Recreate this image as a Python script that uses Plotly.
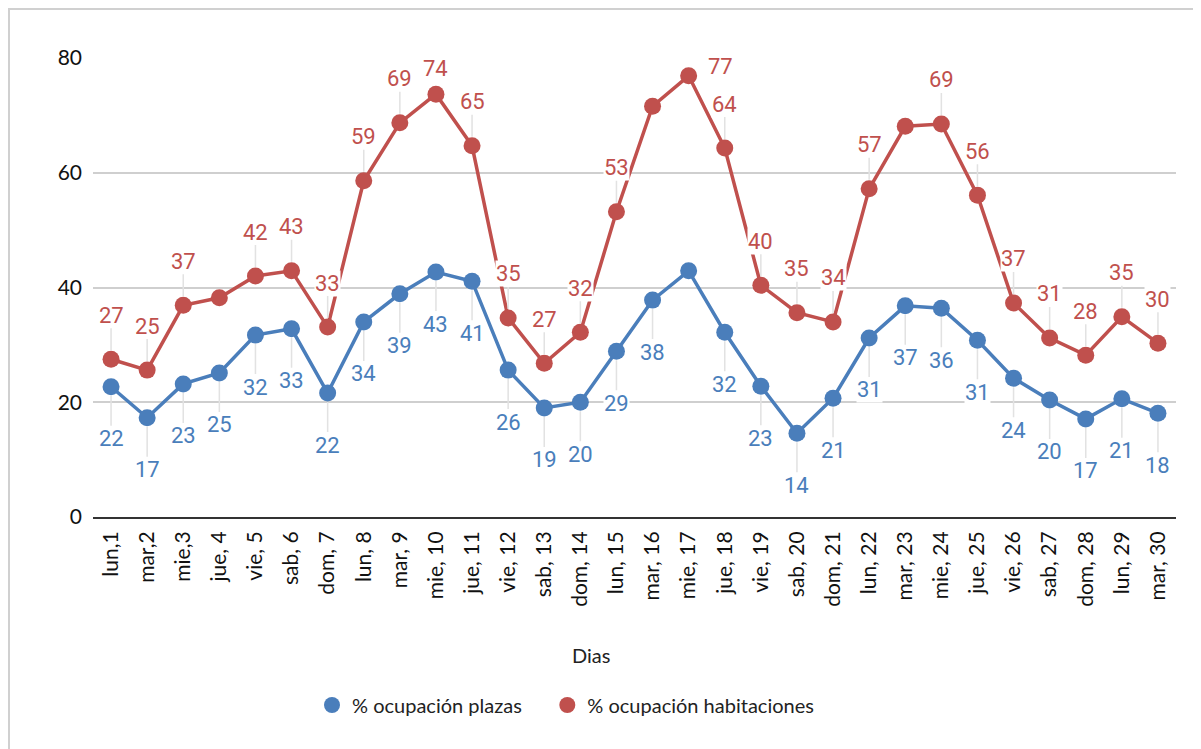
import plotly.graph_objects as go

dias = ["lun,1", "mar,2", "mie,3", "jue, 4", "vie, 5", "sab, 6", "dom, 7", "lun, 8", "mar, 9",
        "mie, 10", "jue, 11", "vie, 12", "sab, 13", "dom, 14", "lun, 15", "mar, 16", "mie, 17",
        "jue, 18", "vie, 19", "sab, 20", "dom, 21", "lun, 22", "mar, 23", "mie, 24", "jue, 25",
        "vie, 26", "sab, 27", "dom, 28", "lun, 29", "mar, 30"]

plazas = [22.7, 17.3, 23.2, 25.1, 31.7, 32.8, 21.6, 34.0, 38.9, 42.7, 41.1, 25.6, 19.0, 20.0, 28.9,
          37.8, 42.9, 32.2, 22.8, 14.6, 20.7, 31.2, 36.8, 36.4, 30.8, 24.2, 20.4, 17.1, 20.6, 18.1]
habitaciones = [27.5, 25.6, 36.9, 38.2, 42.0, 42.9, 33.1, 58.6, 68.7, 73.7, 64.7, 34.7, 26.8, 32.2, 53.2,
                71.6, 76.9, 64.3, 40.4, 35.6, 34.0, 57.2, 68.1, 68.5, 56.1, 37.3, 31.2, 28.2, 34.9, 30.3]

plazas_labels = [22, 17, 23, 25, 32, 33, 22, 34, 39, 43, 41, 26, 19, 20, 29,
                 38, None, 32, 23, 14, 21, 31, 37, 36, 31, 24, 20, 17, 21, 18]
habit_labels = [27, 25, 37, None, 42, 43, 33, 59, 69, 74, 65, 35, 27, 32, 53,
                None, 77, 64, 40, 35, 34, 57, None, 69, 56, 37, 31, 28, 35, 30]

BLUE = "#4a7ebb"
RED = "#c0504d"
W, H = 1201, 749
L, R, T, B = 85, 33, 50, 240
PW, PH = W - L - R, H - T - B


def px2paper_x(px):
    return (px - L) / PW


def px2paper_y(py):
    return (H - B - py) / PH


fig = go.Figure()
fig.add_trace(go.Scatter(x=dias, y=plazas, mode="lines+markers", name="% ocupación plazas",
                         line=dict(color=BLUE, width=3.5), marker=dict(size=17, color=BLUE),
                         showlegend=False, hoverinfo="skip"))
fig.add_trace(go.Scatter(x=dias, y=habitaciones, mode="lines+markers", name="% ocupación habitaciones",
                         line=dict(color=RED, width=3.5), marker=dict(size=17, color=RED),
                         showlegend=False, hoverinfo="skip"))
# legend entries (markers only)
fig.add_trace(go.Scatter(x=[None], y=[None], mode="markers",
                         name="% ocupación plazas" + "\u00a0" * 4,
                         marker=dict(size=20, color=BLUE)))
fig.add_trace(go.Scatter(x=[None], y=[None], mode="markers", name="% ocupación habitaciones",
                         marker=dict(size=20, color=RED)))

annotations = []
lab_font = dict(family="Roboto", size=22)
for d, v, t in zip(dias, habitaciones, habit_labels):
    if t is None:
        continue
    if t == 74:
        annotations.append(dict(x=d, y=v, text=str(t), showarrow=False, yshift=26,
                                font=dict(color=RED, **lab_font), bgcolor="white", borderpad=0))
    elif t == 77:
        annotations.append(dict(x=d, y=v, text=str(t), showarrow=False, xshift=32, yshift=9,
                                font=dict(color=RED, **lab_font), bgcolor="white", borderpad=0))
    else:
        annotations.append(dict(x=d, y=v, text=str(t), showarrow=True, arrowhead=0, arrowwidth=1.5,
                                arrowcolor="#e2e2e2", ax=0, ay=-44, standoff=9,
                                font=dict(color=RED, **lab_font), bgcolor="white", borderpad=0))
for d, v, t in zip(dias, plazas, plazas_labels):
    if t is None:
        continue
    annotations.append(dict(x=d, y=v, text=str(t), showarrow=True, arrowhead=0, arrowwidth=1.5,
                            arrowcolor="#e2e2e2", ax=0, ay=52, standoff=9,
                            font=dict(color=BLUE, **lab_font), bgcolor="white", borderpad=0))

annotations.append(dict(x=px2paper_x(583), y=px2paper_y(647), xref="paper", yref="paper",
                        xanchor="center", yanchor="middle",
                        text="Dias", showarrow=False, font=dict(family="Lato", size=20, color="#222")))

fig.update_layout(
    width=W, height=H,
    margin=dict(l=L, r=R, t=T, b=B, autoexpand=False),
    paper_bgcolor="white", plot_bgcolor="white",
    font=dict(family="Lato", size=20, color="#222"),
    annotations=annotations,
    legend=dict(orientation="h", x=px2paper_x(304), y=px2paper_y(697), xanchor="left", yanchor="middle",
                font=dict(family="Lato", size=20, color="#222"), itemsizing="trace"),
    shapes=[dict(type="rect", xref="paper", yref="paper",
                 x0=px2paper_x(1), x1=px2paper_x(1230), y0=px2paper_y(780), y1=px2paper_y(1),
                 line=dict(color="#d0d0d0", width=2), fillcolor="rgba(0,0,0,0)", layer="below")],
    xaxis=dict(type="category", tickangle=-90, showgrid=False, ticks="", showline=True,
               linecolor="#333", linewidth=2, tickfont=dict(family="Lato", size=21, color="#111"),
               ticklabelstandoff=4, range=[-0.5, 29.5]),
    yaxis=dict(range=[0, 80], tickvals=[0, 20, 40, 60, 80], showgrid=True, gridcolor="#cfcfcf",
               gridwidth=2, zeroline=False, showline=False, ticks="", ticklabelstandoff=10,
               tickfont=dict(family="Lato", size=21, color="#111")),
)

fig.write_html("out.html")
